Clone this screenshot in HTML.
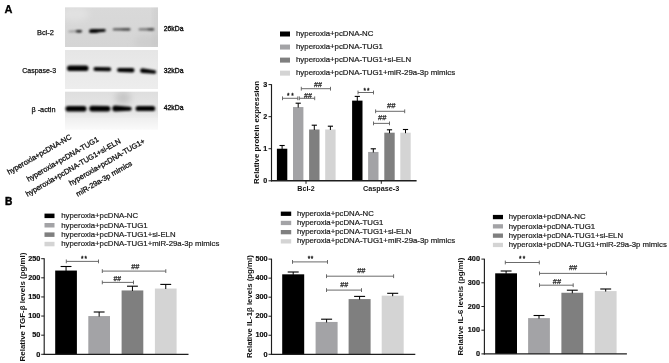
<!DOCTYPE html>
<html><head><meta charset="utf-8"><title>Figure</title>
<style>
html,body{margin:0;padding:0;background:#fff;}
body{width:669px;height:363px;overflow:hidden;}
svg{display:block;font-family:"Liberation Sans", Arial, sans-serif;}
</style></head><body>
<svg width="669" height="363" viewBox="0 0 669 363">
<rect width="669" height="363" fill="#fff"/>
<text x="4.50" y="12.80" font-size="11" text-anchor="start" font-weight="bold" fill="#000" stroke="#000" stroke-width="0.25">A</text>
<text x="4.90" y="204.90" font-size="10.2" text-anchor="start" font-weight="bold" fill="#000" stroke="#000" stroke-width="0.45">B</text>
<defs><filter id="bl3" x="-10%" y="-100%" width="120%" height="300%"><feGaussianBlur stdDeviation="0.85"/></filter><filter id="bl4" x="-50%" y="-50%" width="200%" height="200%"><feGaussianBlur stdDeviation="3"/></filter><filter id="bl" x="-30%" y="-100%" width="160%" height="300%"><feGaussianBlur stdDeviation="1.1"/></filter><filter id="bl2" x="-30%" y="-30%" width="160%" height="160%"><feGaussianBlur stdDeviation="0.85"/></filter><linearGradient id="g3" x1="0" y1="0" x2="0" y2="1"><stop offset="0" stop-color="#dedede"/><stop offset="0.45" stop-color="#e6e6e6"/><stop offset="1" stop-color="#fafafa"/></linearGradient><linearGradient id="g1" x1="0" y1="0" x2="0" y2="1"><stop offset="0" stop-color="#d9d9d9"/><stop offset="1" stop-color="#d5d5d5"/></linearGradient><linearGradient id="g2" x1="0" y1="0" x2="0" y2="1"><stop offset="0" stop-color="#e6e6e6"/><stop offset="1" stop-color="#ededed"/></linearGradient><clipPath id="cp1"><rect x="65" y="7.4" width="93" height="39.6"/></clipPath><clipPath id="cp3"><rect x="65" y="91.7" width="93" height="38"/></clipPath></defs>
<rect x="65.00" y="7.40" width="93.00" height="39.60" fill="url(#g1)"/>
<rect x="65.00" y="50.00" width="93.00" height="39.00" fill="url(#g2)"/>
<g clip-path="url(#cp1)"><ellipse cx="150" cy="42" rx="16" ry="8" fill="#c8c8c8" fill-opacity="0.5" filter="url(#bl4)"/>
<ellipse cx="75" cy="14" rx="14" ry="7" fill="#e8e8e8" fill-opacity="0.6" filter="url(#bl4)"/><rect x="154" y="5" width="6" height="44" fill="#c4c4c4" fill-opacity="0.5" filter="url(#bl4)"/></g>
<rect x="65.00" y="91.70" width="93.00" height="38.00" fill="url(#g3)"/>
<g clip-path="url(#cp3)"><ellipse cx="123" cy="98" rx="8" ry="7" fill="#b8b8b8" fill-opacity="0.65" filter="url(#bl4)"/><rect x="62" y="110" width="99" height="5" fill="#c4c4c4" fill-opacity="0.2" filter="url(#bl4)"/></g>
<g filter="url(#bl3)">
<path d="M69.05,30.65 L80.50,30.30 A1.00,1.00 0 0 1 80.50,32.30 L69.05,32.15 A0.75,0.75 0 0 1 69.05,30.65 Z" fill="#000" fill-opacity="0.32"/>
<ellipse cx="79.00" cy="31.30" rx="3.20" ry="1.25" fill="#000" fill-opacity="0.85"/>
<path d="M90.90,29.25 L104.40,29.10 A1.30,1.30 0 0 1 104.40,31.70 L90.90,33.05 A1.90,1.90 0 0 1 90.90,29.25 Z" fill="#000" fill-opacity="1.0"/>
<ellipse cx="94.50" cy="31.00" rx="4.50" ry="1.90" fill="#000" fill-opacity="1.0"/>
<path d="M113.75,28.45 L129.45,28.35 A1.05,1.05 0 0 1 129.45,30.45 L113.75,30.35 A0.95,0.95 0 0 1 113.75,28.45 Z" fill="#000" fill-opacity="0.72"/>
<ellipse cx="125.50" cy="29.50" rx="4.50" ry="1.00" fill="#000" fill-opacity="0.25"/>
<path d="M139.45,28.55 L153.25,28.35 A1.05,1.05 0 0 1 153.25,30.45 L139.45,30.25 A0.85,0.85 0 0 1 139.45,28.55 Z" fill="#000" fill-opacity="0.55"/>
<ellipse cx="150.80" cy="29.40" rx="3.40" ry="1.10" fill="#000" fill-opacity="0.45"/>
</g>
<g filter="url(#bl2)">
<path d="M69.80,65.40 L85.70,65.40 A2.80,2.80 0 0 1 85.70,71.00 L69.80,71.00 A2.80,2.80 0 0 1 69.80,65.40 Z" fill="#000" fill-opacity="1.0"/>
<path d="M95.40,67.10 L109.20,67.30 A2.00,2.00 0 0 1 109.20,71.30 L95.40,71.10 A2.00,2.00 0 0 1 95.40,67.10 Z" fill="#000" fill-opacity="1.0"/>
<path d="M119.00,67.90 L132.30,68.10 A2.20,2.20 0 0 1 132.30,72.50 L119.00,71.90 A2.00,2.00 0 0 1 119.00,67.90 Z" fill="#000" fill-opacity="1.0"/>
<path d="M142.50,68.30 L154.50,70.30 A1.70,1.70 0 0 1 154.50,73.70 L142.50,73.10 A2.40,2.40 0 0 1 142.50,68.30 Z" fill="#000" fill-opacity="1.0"/>
<path d="M68.30,105.90 L83.70,105.90 A2.80,2.80 0 0 1 83.70,111.50 L68.30,111.50 A2.80,2.80 0 0 1 68.30,105.90 Z" fill="#000" fill-opacity="1.0"/>
<path d="M92.15,105.75 L107.70,106.10 A2.70,2.70 0 0 1 107.70,111.50 L92.15,111.45 A2.85,2.85 0 0 1 92.15,105.75 Z" fill="#000" fill-opacity="1.0"/>
<path d="M115.20,105.60 L129.70,106.70 A2.00,2.00 0 0 1 129.70,110.70 L115.20,111.40 A2.90,2.90 0 0 1 115.20,105.60 Z" fill="#000" fill-opacity="1.0"/>
<path d="M138.20,105.90 L152.60,105.90 A2.60,2.60 0 0 1 152.60,111.10 L138.20,111.10 A2.60,2.60 0 0 1 138.20,105.90 Z" fill="#000" fill-opacity="1.0"/>
</g>
<text x="53.80" y="35.00" font-size="7.4" text-anchor="end" fill="#111" stroke="#111" stroke-width="0.25">Bcl-2</text>
<text x="56.10" y="72.80" font-size="7.0" text-anchor="end" fill="#111" stroke="#111" stroke-width="0.25">Caspase-3</text>
<text x="55.50" y="111.50" font-size="7.3" text-anchor="end" fill="#111" stroke="#111" stroke-width="0.25">β -actin</text>
<text x="163.80" y="30.90" font-size="6.8" text-anchor="start" fill="#111" stroke="#111" stroke-width="0.35">26kDa</text>
<text x="163.80" y="73.00" font-size="6.8" text-anchor="start" fill="#111" stroke="#111" stroke-width="0.35">32kDa</text>
<text x="163.80" y="110.00" font-size="6.8" text-anchor="start" fill="#111" stroke="#111" stroke-width="0.35">42kDa</text>
<text x="72.10" y="138.30" font-size="7.4" text-anchor="end" fill="#111" transform="rotate(-30 72.1 138.3)" stroke="#111" stroke-width="0.3">hyperoxia+pcDNA-NC</text>
<text x="99.40" y="140.80" font-size="7.4" text-anchor="end" fill="#111" transform="rotate(-30 99.4 140.8)" stroke="#111" stroke-width="0.3">hyperoxia+pcDNA-TUG1</text>
<text x="121.30" y="142.50" font-size="7.4" text-anchor="end" fill="#111" transform="rotate(-30 121.3 142.5)" stroke="#111" stroke-width="0.3">hyperoxia+pcDNA-TUG1+si-ELN</text>
<text x="145.50" y="142.60" font-size="7.4" text-anchor="end" fill="#111" transform="rotate(-30 145.5 142.6)" stroke="#111" stroke-width="0.3">hyperoxia+pcDNA-TUG1+</text>
<text x="132.80" y="164.80" font-size="7.4" text-anchor="end" fill="#111" transform="rotate(-30 132.8 164.8)" stroke="#111" stroke-width="0.3">miR-29a-3p mimics</text>
<rect x="280.00" y="31.50" width="10.00" height="5.00" fill="#000000"/>
<text x="296.00" y="36.10" font-size="7.85" text-anchor="start" fill="#1a1a1a" stroke="#1a1a1a" stroke-width="0.2">hyperoxia+pcDNA-NC</text>
<rect x="280.00" y="44.55" width="10.00" height="5.00" fill="#a3a3a6"/>
<text x="296.00" y="49.15" font-size="7.85" text-anchor="start" fill="#1a1a1a" stroke="#1a1a1a" stroke-width="0.2">hyperoxia+pcDNA-TUG1</text>
<rect x="280.00" y="57.60" width="10.00" height="5.00" fill="#7f7f7f"/>
<text x="296.00" y="62.20" font-size="7.85" text-anchor="start" fill="#1a1a1a" stroke="#1a1a1a" stroke-width="0.2">hyperoxia+pcDNA-TUG1+si-ELN</text>
<rect x="280.00" y="70.65" width="10.00" height="5.00" fill="#d4d4d4"/>
<text x="296.00" y="75.25" font-size="7.85" text-anchor="start" fill="#1a1a1a" stroke="#1a1a1a" stroke-width="0.2">hyperoxia+pcDNA-TUG1+miR-29a-3p mimics</text>
<rect x="276.90" y="148.73" width="10.40" height="32.07" fill="#000000"/>
<rect x="293.00" y="107.04" width="10.40" height="73.76" fill="#a3a3a6"/>
<rect x="309.10" y="129.49" width="10.40" height="51.31" fill="#7f7f7f"/>
<rect x="325.20" y="129.49" width="10.40" height="51.31" fill="#d4d4d4"/>
<rect x="352.10" y="100.63" width="10.40" height="80.17" fill="#000000"/>
<rect x="368.10" y="151.94" width="10.40" height="28.86" fill="#a3a3a6"/>
<rect x="384.30" y="132.69" width="10.40" height="48.11" fill="#7f7f7f"/>
<rect x="400.30" y="132.69" width="10.40" height="48.11" fill="#d4d4d4"/>
<line x1="282.10" y1="145.50" x2="282.10" y2="149.23" stroke="#000" stroke-width="1.0"/>
<line x1="279.50" y1="145.50" x2="284.70" y2="145.50" stroke="#000" stroke-width="1.1"/>
<line x1="298.20" y1="103.20" x2="298.20" y2="107.54" stroke="#000" stroke-width="1.0"/>
<line x1="295.60" y1="103.20" x2="300.80" y2="103.20" stroke="#000" stroke-width="1.1"/>
<line x1="314.30" y1="125.20" x2="314.30" y2="129.99" stroke="#000" stroke-width="1.0"/>
<line x1="311.70" y1="125.20" x2="316.90" y2="125.20" stroke="#000" stroke-width="1.1"/>
<line x1="330.40" y1="126.20" x2="330.40" y2="129.99" stroke="#000" stroke-width="1.0"/>
<line x1="327.80" y1="126.20" x2="333.00" y2="126.20" stroke="#000" stroke-width="1.1"/>
<line x1="357.30" y1="96.40" x2="357.30" y2="101.13" stroke="#000" stroke-width="1.0"/>
<line x1="354.70" y1="96.40" x2="359.90" y2="96.40" stroke="#000" stroke-width="1.1"/>
<line x1="373.30" y1="148.80" x2="373.30" y2="152.44" stroke="#000" stroke-width="1.0"/>
<line x1="370.70" y1="148.80" x2="375.90" y2="148.80" stroke="#000" stroke-width="1.1"/>
<line x1="389.50" y1="129.80" x2="389.50" y2="133.19" stroke="#000" stroke-width="1.0"/>
<line x1="386.90" y1="129.80" x2="392.10" y2="129.80" stroke="#000" stroke-width="1.1"/>
<line x1="405.50" y1="129.50" x2="405.50" y2="133.19" stroke="#000" stroke-width="1.0"/>
<line x1="402.90" y1="129.50" x2="408.10" y2="129.50" stroke="#000" stroke-width="1.1"/>
<line x1="271.50" y1="84.20" x2="271.50" y2="181.40" stroke="#1e1e1e" stroke-width="1.15"/>
<line x1="270.90" y1="180.80" x2="416.60" y2="180.80" stroke="#1e1e1e" stroke-width="1.4"/>
<line x1="268.50" y1="180.80" x2="271.50" y2="180.80" stroke="#1e1e1e" stroke-width="1.0"/>
<text x="267.20" y="183.30" font-size="7.2" text-anchor="end" font-weight="bold" fill="#111" stroke="#111" stroke-width="0.15">0</text>
<line x1="268.50" y1="148.73" x2="271.50" y2="148.73" stroke="#1e1e1e" stroke-width="1.0"/>
<text x="267.20" y="151.23" font-size="7.2" text-anchor="end" font-weight="bold" fill="#111" stroke="#111" stroke-width="0.15">1</text>
<line x1="268.50" y1="116.66" x2="271.50" y2="116.66" stroke="#1e1e1e" stroke-width="1.0"/>
<text x="267.20" y="119.16" font-size="7.2" text-anchor="end" font-weight="bold" fill="#111" stroke="#111" stroke-width="0.15">2</text>
<line x1="268.50" y1="84.59" x2="271.50" y2="84.59" stroke="#1e1e1e" stroke-width="1.0"/>
<text x="267.20" y="87.09" font-size="7.2" text-anchor="end" font-weight="bold" fill="#111" stroke="#111" stroke-width="0.15">3</text>
<line x1="306.00" y1="180.80" x2="306.00" y2="183.80" stroke="#1e1e1e" stroke-width="1.0"/>
<line x1="381.30" y1="180.80" x2="381.30" y2="183.80" stroke="#1e1e1e" stroke-width="1.0"/>
<text x="306.00" y="190.60" font-size="7.1" text-anchor="middle" font-weight="bold" fill="#111">Bcl-2</text>
<text x="381.20" y="190.60" font-size="7.25" text-anchor="middle" font-weight="bold" fill="#111">Caspase-3</text>
<text x="258.70" y="132.40" font-size="7.9" text-anchor="middle" font-weight="bold" fill="#111" transform="rotate(-90 258.7 132.4)">Relative protein expression</text>
<line x1="282.50" y1="98.30" x2="297.80" y2="98.30" stroke="#5a5a5a" stroke-width="0.9"/>
<line x1="282.50" y1="96.40" x2="282.50" y2="100.20" stroke="#5a5a5a" stroke-width="0.9"/>
<line x1="297.80" y1="96.40" x2="297.80" y2="100.20" stroke="#5a5a5a" stroke-width="0.9"/>
<text x="286.92" y="97.72" font-size="6.4" text-anchor="start" fill="#1a1a1a" stroke="#1a1a1a" stroke-width="0.35" letter-spacing="1.97">**</text>
<line x1="299.30" y1="98.30" x2="314.70" y2="98.30" stroke="#5a5a5a" stroke-width="0.9"/>
<line x1="299.30" y1="96.40" x2="299.30" y2="100.20" stroke="#5a5a5a" stroke-width="0.9"/>
<line x1="314.70" y1="96.40" x2="314.70" y2="100.20" stroke="#5a5a5a" stroke-width="0.9"/>
<text x="304.00" y="97.77" font-size="7.14" text-anchor="start" fill="#2a2a2a" stroke="#2a2a2a" stroke-width="0.25">##</text>
<line x1="301.30" y1="88.70" x2="330.50" y2="88.70" stroke="#5a5a5a" stroke-width="0.9"/>
<line x1="301.30" y1="86.80" x2="301.30" y2="90.60" stroke="#5a5a5a" stroke-width="0.9"/>
<line x1="330.50" y1="86.80" x2="330.50" y2="90.60" stroke="#5a5a5a" stroke-width="0.9"/>
<text x="314.00" y="86.67" font-size="7.14" text-anchor="start" fill="#2a2a2a" stroke="#2a2a2a" stroke-width="0.25">##</text>
<line x1="358.00" y1="92.50" x2="373.50" y2="92.50" stroke="#5a5a5a" stroke-width="0.9"/>
<line x1="358.00" y1="90.60" x2="358.00" y2="94.40" stroke="#5a5a5a" stroke-width="0.9"/>
<line x1="373.50" y1="90.60" x2="373.50" y2="94.40" stroke="#5a5a5a" stroke-width="0.9"/>
<text x="363.52" y="93.12" font-size="6.4" text-anchor="start" fill="#1a1a1a" stroke="#1a1a1a" stroke-width="0.35" letter-spacing="0.97">**</text>
<line x1="375.60" y1="111.30" x2="404.70" y2="111.30" stroke="#5a5a5a" stroke-width="0.9"/>
<line x1="375.60" y1="109.40" x2="375.60" y2="113.20" stroke="#5a5a5a" stroke-width="0.9"/>
<line x1="404.70" y1="109.40" x2="404.70" y2="113.20" stroke="#5a5a5a" stroke-width="0.9"/>
<text x="387.10" y="107.68" font-size="7.69" text-anchor="start" fill="#2a2a2a" stroke="#2a2a2a" stroke-width="0.25">##</text>
<line x1="373.50" y1="123.40" x2="389.50" y2="123.40" stroke="#5a5a5a" stroke-width="0.9"/>
<line x1="373.50" y1="121.50" x2="373.50" y2="125.30" stroke="#5a5a5a" stroke-width="0.9"/>
<line x1="389.50" y1="121.50" x2="389.50" y2="125.30" stroke="#5a5a5a" stroke-width="0.9"/>
<text x="378.00" y="120.38" font-size="7.5" text-anchor="start" fill="#2a2a2a" stroke="#2a2a2a" stroke-width="0.25">##</text>
<rect x="44.50" y="213.60" width="10.00" height="4.50" fill="#000000"/>
<text x="61.20" y="218.10" font-size="7.8" text-anchor="start" fill="#1a1a1a" stroke="#1a1a1a" stroke-width="0.2">hyperoxia+pcDNA-NC</text>
<rect x="44.50" y="223.00" width="10.00" height="4.50" fill="#a3a3a6"/>
<text x="61.20" y="227.50" font-size="7.8" text-anchor="start" fill="#1a1a1a" stroke="#1a1a1a" stroke-width="0.2">hyperoxia+pcDNA-TUG1</text>
<rect x="44.50" y="232.40" width="10.00" height="4.50" fill="#7f7f7f"/>
<text x="61.20" y="236.90" font-size="7.8" text-anchor="start" fill="#1a1a1a" stroke="#1a1a1a" stroke-width="0.2">hyperoxia+pcDNA-TUG1+si-ELN</text>
<rect x="44.50" y="241.80" width="10.00" height="4.50" fill="#d4d4d4"/>
<text x="61.20" y="246.30" font-size="7.8" text-anchor="start" fill="#1a1a1a" stroke="#1a1a1a" stroke-width="0.2">hyperoxia+pcDNA-TUG1+miR-29a-3p mimics</text>
<rect x="55.20" y="270.55" width="21.70" height="83.75" fill="#000000"/>
<rect x="88.30" y="316.06" width="21.70" height="38.24" fill="#a3a3a6"/>
<rect x="121.60" y="290.44" width="21.70" height="63.86" fill="#7f7f7f"/>
<rect x="154.90" y="288.53" width="21.70" height="65.77" fill="#d4d4d4"/>
<line x1="66.05" y1="266.50" x2="66.05" y2="271.05" stroke="#000" stroke-width="1.0"/>
<line x1="60.62" y1="266.50" x2="71.47" y2="266.50" stroke="#000" stroke-width="1.1"/>
<line x1="99.15" y1="312.00" x2="99.15" y2="316.56" stroke="#000" stroke-width="1.0"/>
<line x1="93.72" y1="312.00" x2="104.57" y2="312.00" stroke="#000" stroke-width="1.1"/>
<line x1="132.45" y1="286.20" x2="132.45" y2="290.94" stroke="#000" stroke-width="1.0"/>
<line x1="127.02" y1="286.20" x2="137.88" y2="286.20" stroke="#000" stroke-width="1.1"/>
<line x1="165.75" y1="284.40" x2="165.75" y2="289.03" stroke="#000" stroke-width="1.0"/>
<line x1="160.32" y1="284.40" x2="171.18" y2="284.40" stroke="#000" stroke-width="1.1"/>
<line x1="44.20" y1="258.20" x2="44.20" y2="354.90" stroke="#1e1e1e" stroke-width="1.15"/>
<line x1="43.60" y1="354.30" x2="188.50" y2="354.30" stroke="#1e1e1e" stroke-width="1.3"/>
<line x1="41.20" y1="354.30" x2="44.20" y2="354.30" stroke="#1e1e1e" stroke-width="1.0"/>
<text x="40.40" y="356.50" font-size="7.3" text-anchor="end" font-weight="bold" fill="#111" stroke="#111" stroke-width="0.2">0</text>
<line x1="41.20" y1="335.18" x2="44.20" y2="335.18" stroke="#1e1e1e" stroke-width="1.0"/>
<text x="40.40" y="337.38" font-size="7.3" text-anchor="end" font-weight="bold" fill="#111" stroke="#111" stroke-width="0.2">50</text>
<line x1="41.20" y1="316.06" x2="44.20" y2="316.06" stroke="#1e1e1e" stroke-width="1.0"/>
<text x="40.40" y="318.26" font-size="7.3" text-anchor="end" font-weight="bold" fill="#111" stroke="#111" stroke-width="0.2">100</text>
<line x1="41.20" y1="296.94" x2="44.20" y2="296.94" stroke="#1e1e1e" stroke-width="1.0"/>
<text x="40.40" y="299.14" font-size="7.3" text-anchor="end" font-weight="bold" fill="#111" stroke="#111" stroke-width="0.2">150</text>
<line x1="41.20" y1="277.82" x2="44.20" y2="277.82" stroke="#1e1e1e" stroke-width="1.0"/>
<text x="40.40" y="280.02" font-size="7.3" text-anchor="end" font-weight="bold" fill="#111" stroke="#111" stroke-width="0.2">200</text>
<line x1="41.20" y1="258.70" x2="44.20" y2="258.70" stroke="#1e1e1e" stroke-width="1.0"/>
<text x="40.40" y="260.90" font-size="7.3" text-anchor="end" font-weight="bold" fill="#111" stroke="#111" stroke-width="0.2">250</text>
<text x="24.50" y="307.00" font-size="7.95" text-anchor="middle" font-weight="bold" fill="#111" transform="rotate(-90 24.5 307.0)">Relative TGF-β levels (pg/ml)</text>
<line x1="66.30" y1="261.40" x2="98.50" y2="261.40" stroke="#5a5a5a" stroke-width="0.9"/>
<line x1="66.30" y1="259.50" x2="66.30" y2="263.30" stroke="#5a5a5a" stroke-width="0.9"/>
<line x1="98.50" y1="259.50" x2="98.50" y2="263.30" stroke="#5a5a5a" stroke-width="0.9"/>
<text x="81.02" y="261.22" font-size="6.4" text-anchor="start" fill="#1a1a1a" stroke="#1a1a1a" stroke-width="0.35" letter-spacing="1.07">**</text>
<line x1="102.30" y1="271.10" x2="165.80" y2="271.10" stroke="#5a5a5a" stroke-width="0.9"/>
<line x1="102.30" y1="269.20" x2="102.30" y2="273.00" stroke="#5a5a5a" stroke-width="0.9"/>
<line x1="165.80" y1="269.20" x2="165.80" y2="273.00" stroke="#5a5a5a" stroke-width="0.9"/>
<text x="131.20" y="268.67" font-size="7.41" text-anchor="start" fill="#2a2a2a" stroke="#2a2a2a" stroke-width="0.25">##</text>
<line x1="102.30" y1="282.40" x2="133.50" y2="282.40" stroke="#5a5a5a" stroke-width="0.9"/>
<line x1="102.30" y1="280.50" x2="102.30" y2="284.30" stroke="#5a5a5a" stroke-width="0.9"/>
<line x1="133.50" y1="280.50" x2="133.50" y2="284.30" stroke="#5a5a5a" stroke-width="0.9"/>
<text x="113.60" y="280.57" font-size="6.78" text-anchor="start" fill="#2a2a2a" stroke="#2a2a2a" stroke-width="0.25">##</text>
<rect x="280.80" y="211.60" width="10.40" height="4.30" fill="#000000"/>
<text x="296.90" y="215.80" font-size="7.8" text-anchor="start" fill="#1a1a1a" stroke="#1a1a1a" stroke-width="0.2">hyperoxia+pcDNA-NC</text>
<rect x="280.80" y="220.80" width="10.40" height="4.30" fill="#a3a3a6"/>
<text x="296.90" y="225.00" font-size="7.8" text-anchor="start" fill="#1a1a1a" stroke="#1a1a1a" stroke-width="0.2">hyperoxia+pcDNA-TUG1</text>
<rect x="280.80" y="230.00" width="10.40" height="4.30" fill="#7f7f7f"/>
<text x="296.90" y="234.20" font-size="7.8" text-anchor="start" fill="#1a1a1a" stroke="#1a1a1a" stroke-width="0.2">hyperoxia+pcDNA-TUG1+si-ELN</text>
<rect x="280.80" y="239.20" width="10.40" height="4.30" fill="#d4d4d4"/>
<text x="296.90" y="243.40" font-size="7.8" text-anchor="start" fill="#1a1a1a" stroke="#1a1a1a" stroke-width="0.2">hyperoxia+pcDNA-TUG1+miR-29a-3p mimics</text>
<rect x="282.20" y="274.33" width="22.00" height="79.97" fill="#000000"/>
<rect x="315.60" y="321.93" width="22.00" height="32.37" fill="#a3a3a6"/>
<rect x="348.60" y="299.08" width="22.00" height="55.22" fill="#7f7f7f"/>
<rect x="381.70" y="295.66" width="22.00" height="58.64" fill="#d4d4d4"/>
<line x1="293.20" y1="272.00" x2="293.20" y2="274.83" stroke="#000" stroke-width="1.0"/>
<line x1="287.70" y1="272.00" x2="298.70" y2="272.00" stroke="#000" stroke-width="1.1"/>
<line x1="326.60" y1="319.20" x2="326.60" y2="322.43" stroke="#000" stroke-width="1.0"/>
<line x1="321.10" y1="319.20" x2="332.10" y2="319.20" stroke="#000" stroke-width="1.1"/>
<line x1="359.60" y1="296.40" x2="359.60" y2="299.58" stroke="#000" stroke-width="1.0"/>
<line x1="354.10" y1="296.40" x2="365.10" y2="296.40" stroke="#000" stroke-width="1.1"/>
<line x1="392.70" y1="293.30" x2="392.70" y2="296.16" stroke="#000" stroke-width="1.0"/>
<line x1="387.20" y1="293.30" x2="398.20" y2="293.30" stroke="#000" stroke-width="1.1"/>
<line x1="271.50" y1="258.70" x2="271.50" y2="354.90" stroke="#1e1e1e" stroke-width="1.15"/>
<line x1="270.90" y1="354.30" x2="415.30" y2="354.30" stroke="#1e1e1e" stroke-width="1.3"/>
<line x1="268.50" y1="354.30" x2="271.50" y2="354.30" stroke="#1e1e1e" stroke-width="1.0"/>
<text x="267.60" y="356.50" font-size="7.3" text-anchor="end" font-weight="bold" fill="#111" stroke="#111" stroke-width="0.2">0</text>
<line x1="268.50" y1="335.26" x2="271.50" y2="335.26" stroke="#1e1e1e" stroke-width="1.0"/>
<text x="267.60" y="337.46" font-size="7.3" text-anchor="end" font-weight="bold" fill="#111" stroke="#111" stroke-width="0.2">100</text>
<line x1="268.50" y1="316.22" x2="271.50" y2="316.22" stroke="#1e1e1e" stroke-width="1.0"/>
<text x="267.60" y="318.42" font-size="7.3" text-anchor="end" font-weight="bold" fill="#111" stroke="#111" stroke-width="0.2">200</text>
<line x1="268.50" y1="297.18" x2="271.50" y2="297.18" stroke="#1e1e1e" stroke-width="1.0"/>
<text x="267.60" y="299.38" font-size="7.3" text-anchor="end" font-weight="bold" fill="#111" stroke="#111" stroke-width="0.2">300</text>
<line x1="268.50" y1="278.14" x2="271.50" y2="278.14" stroke="#1e1e1e" stroke-width="1.0"/>
<text x="267.60" y="280.34" font-size="7.3" text-anchor="end" font-weight="bold" fill="#111" stroke="#111" stroke-width="0.2">400</text>
<line x1="268.50" y1="259.10" x2="271.50" y2="259.10" stroke="#1e1e1e" stroke-width="1.0"/>
<text x="267.60" y="261.30" font-size="7.3" text-anchor="end" font-weight="bold" fill="#111" stroke="#111" stroke-width="0.2">500</text>
<text x="251.60" y="306.60" font-size="7.8" text-anchor="middle" font-weight="bold" fill="#111" transform="rotate(-90 251.6 306.6)">Relative IL-1β levels (pg/ml)</text>
<line x1="292.50" y1="261.90" x2="327.50" y2="261.90" stroke="#5a5a5a" stroke-width="0.9"/>
<line x1="292.50" y1="260.00" x2="292.50" y2="263.80" stroke="#5a5a5a" stroke-width="0.9"/>
<line x1="327.50" y1="260.00" x2="327.50" y2="263.80" stroke="#5a5a5a" stroke-width="0.9"/>
<text x="307.72" y="260.82" font-size="6.4" text-anchor="start" fill="#1a1a1a" stroke="#1a1a1a" stroke-width="0.35" letter-spacing="0.57">**</text>
<line x1="326.50" y1="276.20" x2="393.60" y2="276.20" stroke="#5a5a5a" stroke-width="0.9"/>
<line x1="326.50" y1="274.30" x2="326.50" y2="278.10" stroke="#5a5a5a" stroke-width="0.9"/>
<line x1="393.60" y1="274.30" x2="393.60" y2="278.10" stroke="#5a5a5a" stroke-width="0.9"/>
<text x="357.20" y="272.87" font-size="7.41" text-anchor="start" fill="#2a2a2a" stroke="#2a2a2a" stroke-width="0.25">##</text>
<line x1="326.50" y1="290.10" x2="361.50" y2="290.10" stroke="#5a5a5a" stroke-width="0.9"/>
<line x1="326.50" y1="288.20" x2="326.50" y2="292.00" stroke="#5a5a5a" stroke-width="0.9"/>
<line x1="361.50" y1="288.20" x2="361.50" y2="292.00" stroke="#5a5a5a" stroke-width="0.9"/>
<text x="340.20" y="287.27" font-size="7.14" text-anchor="start" fill="#2a2a2a" stroke="#2a2a2a" stroke-width="0.25">##</text>
<rect x="492.90" y="214.90" width="10.10" height="4.30" fill="#000000"/>
<text x="508.70" y="219.30" font-size="7.8" text-anchor="start" fill="#1a1a1a" stroke="#1a1a1a" stroke-width="0.2">hyperoxia+pcDNA-NC</text>
<rect x="492.90" y="224.20" width="10.10" height="4.30" fill="#a3a3a6"/>
<text x="508.70" y="228.60" font-size="7.8" text-anchor="start" fill="#1a1a1a" stroke="#1a1a1a" stroke-width="0.2">hyperoxia+pcDNA-TUG1</text>
<rect x="492.90" y="233.50" width="10.10" height="4.30" fill="#7f7f7f"/>
<text x="508.70" y="237.90" font-size="7.8" text-anchor="start" fill="#1a1a1a" stroke="#1a1a1a" stroke-width="0.2">hyperoxia+pcDNA-TUG1+si-ELN</text>
<rect x="492.90" y="242.80" width="10.10" height="4.30" fill="#d4d4d4"/>
<text x="508.70" y="247.20" font-size="7.8" text-anchor="start" fill="#1a1a1a" stroke="#1a1a1a" stroke-width="0.2">hyperoxia+pcDNA-TUG1+miR-29a-3p mimics</text>
<rect x="495.20" y="273.32" width="21.80" height="80.58" fill="#000000"/>
<rect x="528.10" y="318.11" width="21.80" height="35.79" fill="#a3a3a6"/>
<rect x="561.40" y="292.75" width="21.80" height="61.15" fill="#7f7f7f"/>
<rect x="594.80" y="291.09" width="21.80" height="62.81" fill="#d4d4d4"/>
<line x1="506.10" y1="271.00" x2="506.10" y2="273.82" stroke="#000" stroke-width="1.0"/>
<line x1="500.65" y1="271.00" x2="511.55" y2="271.00" stroke="#000" stroke-width="1.1"/>
<line x1="539.00" y1="315.50" x2="539.00" y2="318.61" stroke="#000" stroke-width="1.0"/>
<line x1="533.55" y1="315.50" x2="544.45" y2="315.50" stroke="#000" stroke-width="1.1"/>
<line x1="572.30" y1="290.20" x2="572.30" y2="293.25" stroke="#000" stroke-width="1.0"/>
<line x1="566.85" y1="290.20" x2="577.75" y2="290.20" stroke="#000" stroke-width="1.1"/>
<line x1="605.70" y1="289.00" x2="605.70" y2="291.59" stroke="#000" stroke-width="1.0"/>
<line x1="600.25" y1="289.00" x2="611.15" y2="289.00" stroke="#000" stroke-width="1.1"/>
<line x1="484.40" y1="258.70" x2="484.40" y2="354.50" stroke="#1e1e1e" stroke-width="1.15"/>
<line x1="483.80" y1="353.90" x2="626.90" y2="353.90" stroke="#1e1e1e" stroke-width="1.3"/>
<line x1="481.40" y1="353.90" x2="484.40" y2="353.90" stroke="#1e1e1e" stroke-width="1.0"/>
<text x="480.00" y="356.10" font-size="7.3" text-anchor="end" font-weight="bold" fill="#111" stroke="#111" stroke-width="0.2">0</text>
<line x1="481.40" y1="330.20" x2="484.40" y2="330.20" stroke="#1e1e1e" stroke-width="1.0"/>
<text x="480.00" y="332.40" font-size="7.3" text-anchor="end" font-weight="bold" fill="#111" stroke="#111" stroke-width="0.2">100</text>
<line x1="481.40" y1="306.50" x2="484.40" y2="306.50" stroke="#1e1e1e" stroke-width="1.0"/>
<text x="480.00" y="308.70" font-size="7.3" text-anchor="end" font-weight="bold" fill="#111" stroke="#111" stroke-width="0.2">200</text>
<line x1="481.40" y1="282.80" x2="484.40" y2="282.80" stroke="#1e1e1e" stroke-width="1.0"/>
<text x="480.00" y="285.00" font-size="7.3" text-anchor="end" font-weight="bold" fill="#111" stroke="#111" stroke-width="0.2">300</text>
<line x1="481.40" y1="259.10" x2="484.40" y2="259.10" stroke="#1e1e1e" stroke-width="1.0"/>
<text x="480.00" y="261.30" font-size="7.3" text-anchor="end" font-weight="bold" fill="#111" stroke="#111" stroke-width="0.2">400</text>
<text x="463.50" y="306.60" font-size="7.8" text-anchor="middle" font-weight="bold" fill="#111" transform="rotate(-90 463.5 306.6)">Relative IL-6 levels (pg/ml)</text>
<line x1="505.30" y1="262.50" x2="539.30" y2="262.50" stroke="#5a5a5a" stroke-width="0.9"/>
<line x1="505.30" y1="260.60" x2="505.30" y2="264.40" stroke="#5a5a5a" stroke-width="0.9"/>
<line x1="539.30" y1="260.60" x2="539.30" y2="264.40" stroke="#5a5a5a" stroke-width="0.9"/>
<text x="519.12" y="261.02" font-size="6.4" text-anchor="start" fill="#1a1a1a" stroke="#1a1a1a" stroke-width="0.35" letter-spacing="1.17">**</text>
<line x1="539.50" y1="273.40" x2="606.50" y2="273.40" stroke="#5a5a5a" stroke-width="0.9"/>
<line x1="539.50" y1="271.50" x2="539.50" y2="275.30" stroke="#5a5a5a" stroke-width="0.9"/>
<line x1="606.50" y1="271.50" x2="606.50" y2="275.30" stroke="#5a5a5a" stroke-width="0.9"/>
<text x="569.00" y="269.77" font-size="7.41" text-anchor="start" fill="#2a2a2a" stroke="#2a2a2a" stroke-width="0.25">##</text>
<line x1="539.50" y1="285.20" x2="573.20" y2="285.20" stroke="#5a5a5a" stroke-width="0.9"/>
<line x1="539.50" y1="283.30" x2="539.50" y2="287.10" stroke="#5a5a5a" stroke-width="0.9"/>
<line x1="573.20" y1="283.30" x2="573.20" y2="287.10" stroke="#5a5a5a" stroke-width="0.9"/>
<text x="552.80" y="284.17" font-size="7.41" text-anchor="start" fill="#2a2a2a" stroke="#2a2a2a" stroke-width="0.25">##</text>
</svg>
</body></html>
